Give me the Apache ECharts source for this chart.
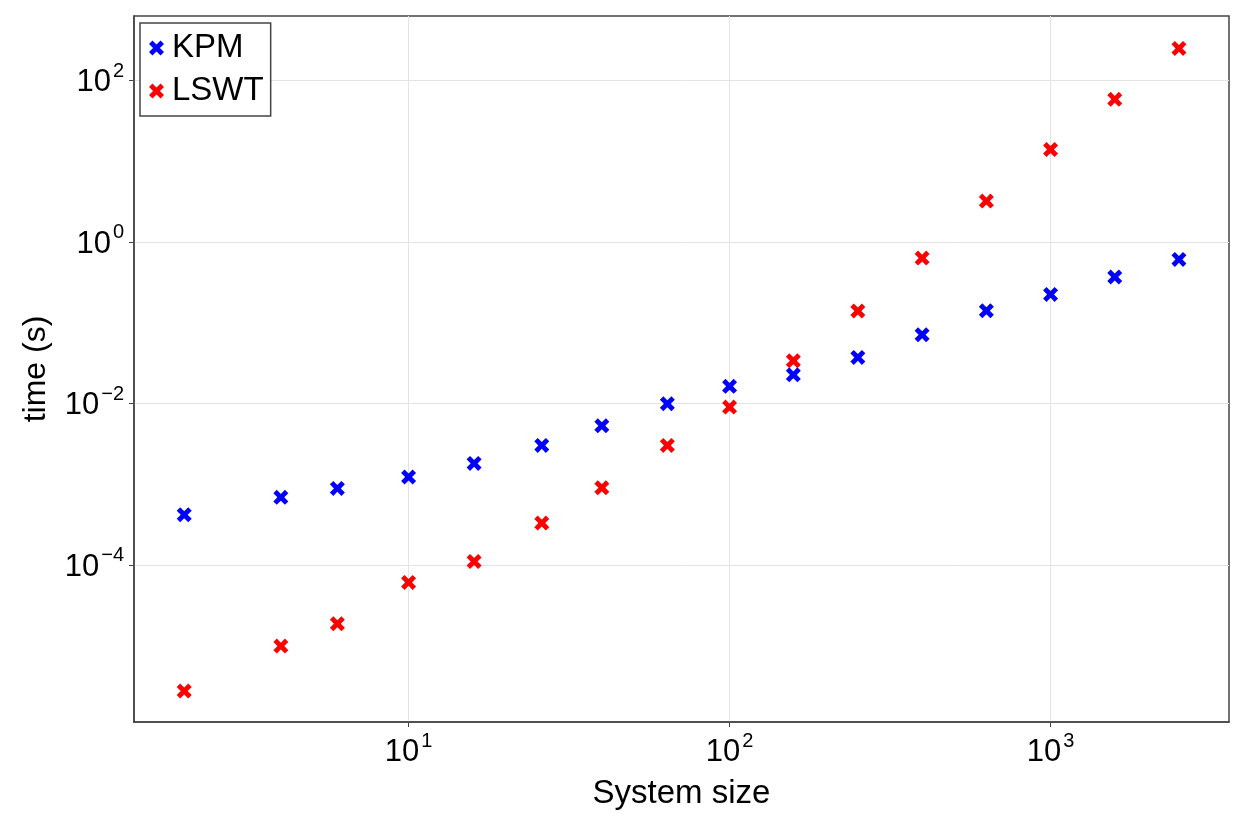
<!DOCTYPE html>
<html><head><meta charset="utf-8">
<script src="https://cdn.jsdelivr.net/npm/echarts@6/dist/echarts.min.js"></script>
<style>html,body{margin:0;padding:0;background:#fff}#chart{width:1246px;height:830px}</style>
</head><body><div id="chart"></div>
<script>
const systemSize = [2, 4, 6, 10, 16, 26, 40, 64, 100, 158, 251, 398, 631, 1000, 1585, 2512];
const kpmTime = [4.16e-4, 6.84e-4, 8.83e-4, 1.22e-3, 1.80e-3, 3.01e-3, 5.26e-3, 9.86e-3, 0.0162, 0.0225, 0.0370, 0.0705, 0.140, 0.223, 0.366, 0.605];
const lswtTime = [2.73e-6, 9.84e-6, 1.86e-5, 6.05e-5, 1.10e-4, 3.28e-4, 8.99e-4, 3.01e-3, 8.97e-3, 0.0336, 0.139, 0.628, 3.19, 13.9, 58.0, 248];
const xTickValues = [10, 100, 1000];
const yTickValues = [1e-4, 1e-2, 1, 100];
const seriesNames = ['KPM', 'LSWT'];
const seriesColors = ['#0000ff', '#ff0000'];
const xAxisName = 'System size';
const yAxisName = 'time (s)';
const xRange = [1.395, 3597];
const yRange = [1.13e-6, 625];

const FONT = '"Liberation Sans", Arial, Helvetica, sans-serif';
const XMARK = 'path://M0,2.3L2.3,0L5,2.7L7.7,0L10,2.3L7.3,5L10,7.7L7.7,10L5,7.3L2.3,10L0,7.7L2.7,5Z';
const FRAME = '#444';

function powLabel(v) {
  const e = Math.log10(v);
  const r = Math.round(e);
  if (Math.abs(e - r) > 1e-6) return '';
  const s = r < 0 ? '\u2212' + Math.abs(r) : String(r);
  return '{b|10}{s|' + s + '}';
}
const richLabel = {
  b: { fontSize: 31, fontFamily: FONT, color: '#000', verticalAlign: 'middle', padding: [5, 0, 0, 0] },
  s: { fontSize: 20, fontFamily: FONT, color: '#000', verticalAlign: 'middle', padding: [0, 0, 18, 2] }
};

function axisCommon(ticks) {
  return {
    axisLine: { show: true, lineStyle: { color: FRAME, width: 1.5 } },
    axisTick: { show: true, length: 5, inside: false, customValues: ticks, lineStyle: { color: FRAME, width: 1 } },
    splitLine: { show: true, customValues: ticks, lineStyle: { color: '#e3e3e3', width: 1 } },
    minorTick: { show: false }, minorSplitLine: { show: false }
  };
}

const chart = echarts.init(document.getElementById('chart'), null, { renderer: 'canvas' });
chart.setOption({
  animation: false,
  backgroundColor: '#fff',
  grid: { left: 134, right: 17, top: 16, bottom: 108, show: true, borderColor: FRAME, borderWidth: 1.5, backgroundColor: 'transparent' },
  legend: {
    orient: 'vertical', left: 140, top: 23,
    padding: [8, 7, 8, 9],
    itemGap: 9, itemWidth: 15, itemHeight: 15,
    backgroundColor: '#fff', borderColor: FRAME, borderWidth: 1.5, borderRadius: 0,
    textStyle: { fontSize: 33, fontFamily: FONT, color: '#000', lineHeight: 34, padding: [0, 0, 0, 3] },
    data: seriesNames.map((n, i) => ({ name: n, icon: XMARK, itemStyle: { color: seriesColors[i] } }))
  },
  xAxis: Object.assign({
    type: 'log', logBase: 10, min: xRange[0], max: xRange[1],
    name: xAxisName, nameLocation: 'middle', nameGap: 55,
    nameTextStyle: { fontSize: 33, fontFamily: FONT, color: '#000' },
    axisLabel: { formatter: powLabel, rich: richLabel, margin: 9, customValues: xTickValues }
  }, axisCommon(xTickValues)),
  yAxis: Object.assign({
    type: 'log', logBase: 10, min: yRange[0], max: yRange[1],
    name: yAxisName, nameLocation: 'middle', nameGap: 82,
    nameTextStyle: { fontSize: 32, fontFamily: FONT, color: '#000' },
    axisLabel: { formatter: powLabel, rich: richLabel, margin: 10, customValues: yTickValues }
  }, axisCommon(yTickValues)),
  series: [
    { name: seriesNames[0], type: 'scatter', symbol: XMARK, symbolSize: 15, itemStyle: { color: seriesColors[0], opacity: 1 },
      data: systemSize.map((x, i) => [x, kpmTime[i]]) },
    { name: seriesNames[1], type: 'scatter', symbol: XMARK, symbolSize: 15, itemStyle: { color: seriesColors[1], opacity: 1 },
      data: systemSize.map((x, i) => [x, lswtTime[i]]) }
  ]
});
</script>
</body></html>
